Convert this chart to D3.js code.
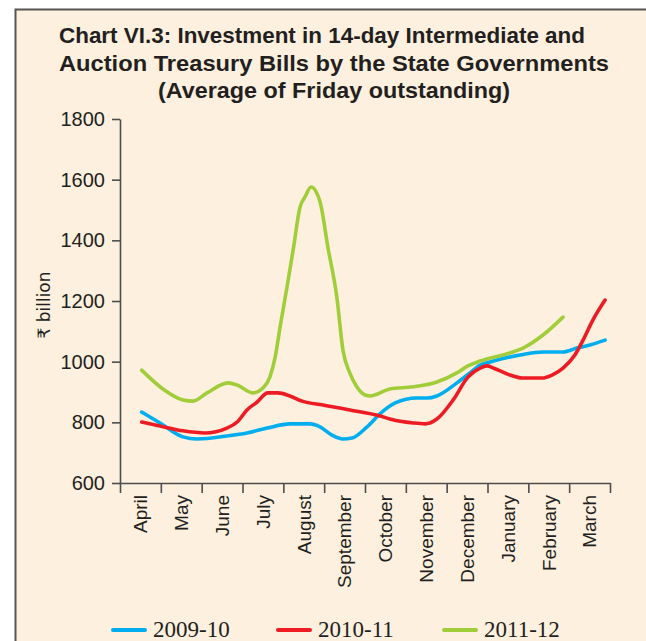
<!DOCTYPE html>
<html>
<head>
<meta charset="utf-8">
<script src="https://cdn.jsdelivr.net/npm/d3@7"></script>
<style>
  body { margin: 0; background: #fff; }
  svg { display: block; }
</style>
</head>
<body>
<div id="chart"></div>
<script>
// month labels, April -> March (fiscal year)
const months = ["April", "May", "June", "July", "August", "September", "October",
  "November", "December", "January", "February", "March"];
const yTicks = [600, 800, 1000, 1200, 1400, 1600, 1800];
const seriesNames = ["2009-10", "2010-11", "2011-12"];

// [position in months from start of April, value in ₹ billion]
const fy0910 = [[0.53, 834], [0.98, 798], [1.54, 752], [1.89, 745], [2.62, 755], [3.11, 765],
  [3.60, 781], [4.16, 795], [4.65, 795], [4.90, 785], [5.19, 758], [5.46, 745], [5.68, 748],
  [6.05, 785], [6.40, 832], [6.74, 864], [7.27, 880], [7.52, 880], [7.76, 887], [8.25, 930],
  [8.57, 963], [8.82, 989], [9.06, 999], [9.80, 1022], [10.36, 1032], [10.85, 1032],
  [11.19, 1045], [11.51, 1055], [11.88, 1071]];
const fy1011 = [[0.53, 801], [0.98, 788], [1.54, 772], [2.08, 765], [2.62, 781], [2.87, 801],
  [3.11, 841], [3.36, 867], [3.62, 897], [3.87, 897], [4.16, 887], [4.46, 870], [4.97, 857],
  [5.63, 841], [6.37, 821], [6.61, 811], [7.18, 798], [7.47, 795], [7.76, 811], [8.16, 874],
  [8.52, 949], [8.82, 979], [8.99, 986], [9.14, 979], [9.55, 956], [9.85, 946], [10.34, 946],
  [10.58, 956], [10.85, 979], [11.14, 1022], [11.34, 1071], [11.58, 1137], [11.88, 1203]];
const fy1112 = [[0.53, 972], [1.05, 910], [1.54, 874], [1.79, 870], [2.13, 897], [2.65, 930],
  [2.87, 923], [3.26, 897], [3.50, 913], [3.67, 949], [3.80, 1015], [3.92, 1114], [4.09, 1246],
  [4.24, 1368], [4.41, 1510], [4.53, 1543], [4.68, 1576], [4.90, 1526], [5.09, 1378],
  [5.31, 1213], [5.46, 1038], [5.63, 962], [5.80, 917], [6.00, 890], [6.12, 887], [6.61, 910],
  [7.18, 917], [7.76, 933], [8.25, 963], [8.52, 986], [8.82, 1002], [9.55, 1029], [9.87, 1045],
  [10.36, 1088], [10.85, 1147]];

const colors = ["#00aeef", "#ed1c24", "#a2cd3a"];
const allSeries = [fy0910, fy1011, fy1112];

const width = 646, height = 641;
const margin = {top: 119, right: 36, bottom: 158, left: 120};

const svg = d3.select("#chart").append("svg")
  .attr("width", width)
  .attr("height", height);

// cream panel with grey frame on left and top
svg.append("rect")
  .attr("x", 15).attr("y", 10)
  .attr("width", width - 15).attr("height", height - 10)
  .attr("fill", "#fdf0de");
svg.append("path")
  .attr("d", `M15.5,${height}V9.5H${width}`)
  .attr("fill", "none")
  .attr("stroke", "#555")
  .attr("stroke-width", 2);

// title - the original face is a bit wider than Liberation, so stretch each line
const titleLines = [
  "Chart VI.3: Investment in 14-day Intermediate and",
  "Auction Treasury Bills by the State Governments",
  "(Average of Friday outstanding)"
];
const titleMid = [322, 334, 334];
const titleLen = [526, 550, 352];
svg.append("g").selectAll("text")
  .data(titleLines)
  .enter().append("text")
    .attr("x", (d, i) => titleMid[i])
    .attr("y", (d, i) => 43 + i * 27.5)
    .attr("text-anchor", "middle")
    .attr("textLength", (d, i) => titleLen[i])
    .attr("lengthAdjust", "spacingAndGlyphs")
    .style("font-family", "'Liberation Sans', Arial, sans-serif")
    .style("font-weight", "bold")
    .style("font-size", "22px")
    .attr("fill", "#231f20")
    .text(d => d);

const x = d3.scaleLinear()
  .domain([0, 12])
  .range([margin.left, width - margin.right]);

const y = d3.scaleLinear()
  .domain([600, 1800])
  .range([height - margin.bottom, margin.top]);

const axisColor = "#4d4d4d";
const labelFont = "'Liberation Sans', Arial, sans-serif";

// y axis
const yAxis = svg.append("g")
  .attr("transform", `translate(${margin.left},0)`)
  .call(d3.axisLeft(y).tickValues(yTicks).tickFormat(d3.format("d"))
    .tickSize(8).tickSizeOuter(0).tickPadding(7));
yAxis.selectAll("text")
  .style("font-family", labelFont)
  .style("font-size", "20px")
  .attr("fill", "#231f20");

// x axis: ticks at month boundaries, labels in between
const xAxis = svg.append("g")
  .attr("transform", `translate(0,${y(600)})`)
  .call(d3.axisBottom(x).tickValues(d3.range(13)).tickSize(10).tickSizeOuter(0).tickFormat(""));

svg.append("g").selectAll("text")
  .data(months)
  .enter().append("text")
    .attr("transform", (d, i) => `translate(${x(i + 0.5)},${y(600) + 12}) rotate(-90)`)
    .attr("dy", "0.36em")
    .attr("text-anchor", "end")
    .style("font-family", labelFont)
    .style("font-size", "19px")
    .attr("fill", "#231f20")
    .text(d => d);

[yAxis, xAxis].forEach(g => {
  g.selectAll("path, line").attr("stroke", axisColor).attr("stroke-width", 1.6);
});

// y axis title
svg.append("text")
  .attr("transform", `translate(44,${y(1200) + 4}) rotate(-90)`)
  .attr("dy", "0.35em")
  .attr("text-anchor", "middle")
  .style("font-family", "'DejaVu Sans', 'Liberation Sans', sans-serif")
  .style("font-size", "17px")
  .attr("fill", "#231f20")
  .text("₹ billion");

// lines
const line = d3.line()
  .x(d => x(d[0]))
  .y(d => y(d[1]))
  .curve(d3.curveMonotoneX);

svg.append("g").selectAll("path")
  .data(allSeries)
  .enter().append("path")
    .attr("d", line)
    .attr("fill", "none")
    .attr("stroke", (d, i) => colors[i])
    .attr("stroke-width", 3.6)
    .attr("stroke-linejoin", "round")
    .attr("stroke-linecap", "round");

// legend
const legendX = [113, 278, 444];
const legend = svg.append("g").selectAll("g")
  .data(seriesNames)
  .enter().append("g")
    .attr("transform", (d, i) => `translate(${legendX[i]},630)`);
legend.append("line")
  .attr("x1", 0).attr("x2", 32)
  .attr("stroke", (d, i) => colors[i])
  .attr("stroke-width", 4)
  .attr("stroke-linecap", "round");
legend.append("text")
  .attr("x", 40)
  .attr("y", 7)
  .style("font-family", "'Liberation Serif', 'Times New Roman', serif")
  .style("font-size", "23px")
  .attr("fill", "#231f20")
  .text(d => d);
</script>
</body>
</html>
